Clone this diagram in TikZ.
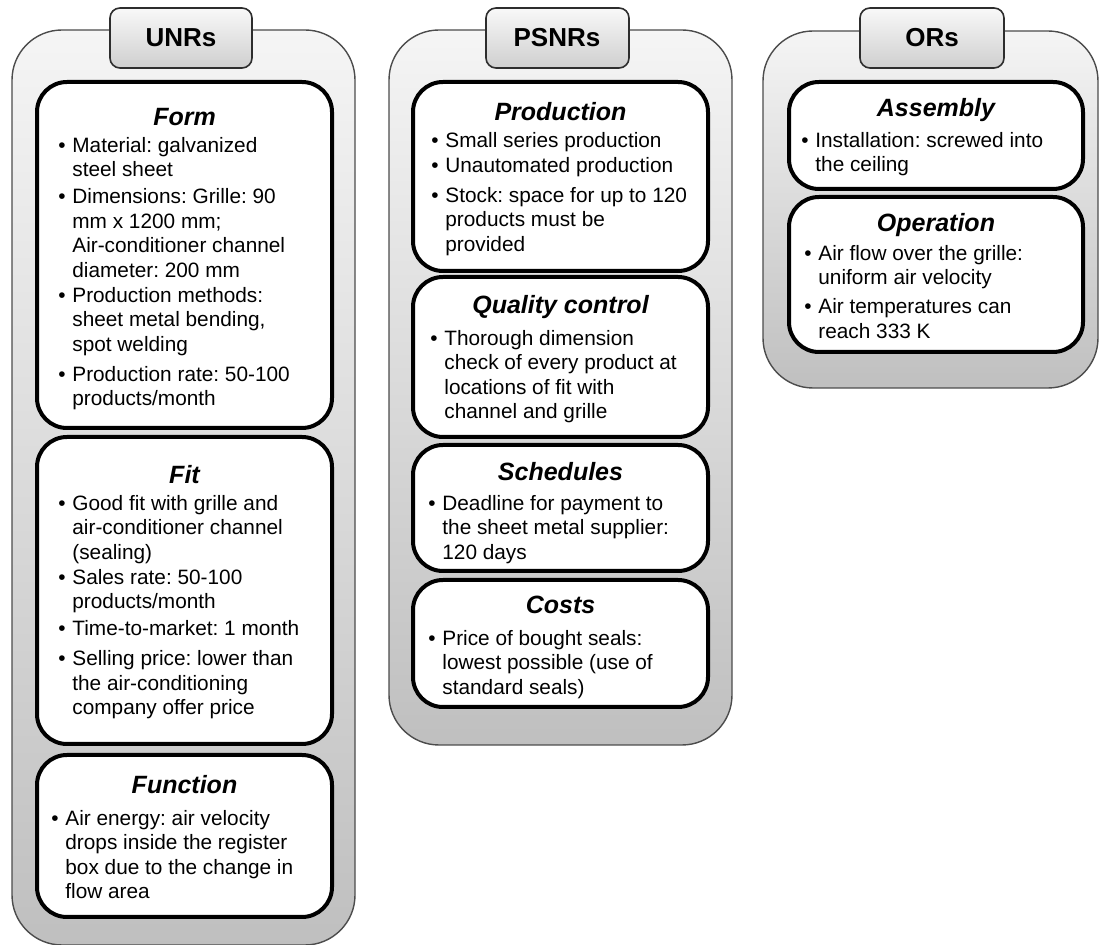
\documentclass[tikz,border=0pt]{standalone}
\usepackage{fontspec}
\setmainfont{Liberation Sans}
\frenchspacing
\usetikzlibrary{positioning}
\tikzset{
  panel/.style={draw=gray!60!black, line width=0.7pt, rounded corners=25pt,
    top color=gray!8, bottom color=gray!50},
  tab/.style={draw=gray!35!black, line width=0.8pt, rounded corners=5pt,
    top color=gray!5, bottom color=gray!38},
  reqbox/.style={draw=black, line width=2pt, rounded corners=15pt, fill=white},
  tabtext/.style={font=\fontsize{13}{15}\selectfont\bfseries, inner sep=0pt},
  boxtitle/.style={font=\fontsize{12.5}{15}\selectfont\bfseries\itshape,
    inner sep=0pt, anchor=base},
  boxtext/.style={font=\fontsize{10.4}{12.2}\selectfont, inner sep=0pt,
    anchor=base west},
}
\newcommand{\bt}{\textbullet}
\newcommand{\items}[1]{\begin{tabular}[t]{@{}p{7pt}@{}l@{}}#1\end{tabular}}

\begin{document}
\begin{tikzpicture}[x=0.5pt, y=-0.5pt]
  \clip (0,0) rectangle (1099,945);

  % grey panels and their tabs
  \draw[panel] (12,30) rectangle (355,945);
  \draw[panel] (389,30) rectangle (732,745);
  \draw[panel] (763,31) rectangle (1098,388);
  \draw[tab] (110,8) rectangle (252,68);
  \draw[tab] (486,8) rectangle (629,68);
  \draw[tab] (860,8) rectangle (1004,68);
  \node[tabtext] (unrs) at (181,38) {UNRs};
  \node[tabtext] (psnrs) at (557,38) {PSNRs};
  \node[tabtext] (ors) at (932,38) {ORs};

  % UNRs
  \draw[reqbox] (37,82) rectangle (332,428);
  \draw[reqbox] (37,437) rectangle (332,744);
  \draw[reqbox] (37,755) rectangle (332,917);
  \node[boxtitle] (form) at (184.5,126) {Form};
  \node[boxtext] (formtext) at (58,152.5) {\items{
    \bt & Material: galvanized\\ & steel sheet\\[1.3pt]
    \bt & Dimensions: Grille: 90\\ & mm x 1200 mm;\\
        & Air-conditioner channel\\ & diameter: 200 mm\\[0.5pt]
    \bt & Production methods:\\ & sheet metal bending,\\ & spot welding\\[2.8pt]
    \bt & Production rate: 50-100\\ & products/month}};
  \node[boxtitle] (fit) at (184.5,484) {Fit};
  \node[boxtext] (fittext) at (58,510.5) {\items{
    \bt & Good fit with grille and\\ & air-conditioner channel\\ & (sealing)\\[0.3pt]
    \bt & Sales rate: 50-100\\ & products/month\\[1.3pt]
    \bt & Time-to-market: 1 month\\[2.8pt]
    \bt & Selling price: lower than\\ & the air-conditioning\\ & company offer price}};
  \node[boxtitle] (function) at (184.5,794) {Function};
  \node[boxtext] (functiontext) at (51,825.5) {\items{
    \bt & Air energy: air velocity\\ & drops inside the register\\
        & box due to the change in\\ & flow area}};

  % PSNRs
  \draw[reqbox] (413,82) rectangle (708,271);
  \draw[reqbox] (413,277) rectangle (708,437);
  \draw[reqbox] (413,445) rectangle (708,571);
  \draw[reqbox] (413,580) rectangle (708,707);
  \node[boxtitle] (production) at (560.5,121) {Production};
  \node[boxtext] (productiontext) at (431,147.5) {\items{
    \bt & Small series production\\[0.3pt]
    \bt & Unautomated production\\[2.8pt]
    \bt & Stock: space for up to 120\\ & products must be\\ & provided}};
  \node[boxtitle] (quality) at (560.5,314) {Quality control};
  \node[boxtext] (qualitytext) at (430,345.5) {\items{
    \bt & Thorough dimension\\ & check of every product at\\
        & locations of fit with\\ & channel and grille}};
  \node[boxtitle] (schedules) at (560.5,481) {Schedules};
  \node[boxtext] (schedulestext) at (428,510.5) {\items{
    \bt & Deadline for payment to\\ & the sheet metal supplier:\\ & 120 days}};
  \node[boxtitle] (costs) at (560.5,614) {Costs};
  \node[boxtext] (coststext) at (428,645.5) {\items{
    \bt & Price of bought seals:\\ & lowest possible (use of\\ & standard seals)}};

  % ORs
  \draw[reqbox] (789,82) rectangle (1083,189);
  \draw[reqbox] (789,197) rectangle (1083,352);
  \node[boxtitle] (assembly) at (936,117) {Assembly};
  \node[boxtext] (assemblytext) at (801,147.5) {\items{
    \bt & Installation: screwed into\\ & the ceiling}};
  \node[boxtitle] (operation) at (936,232) {Operation};
  \node[boxtext] (operationtext) at (804,260.5) {\items{
    \bt & Air flow over the grille:\\ & uniform air velocity\\[2.3pt]
    \bt & Air temperatures can\\ & reach 333 K}};
\end{tikzpicture}
\end{document}
